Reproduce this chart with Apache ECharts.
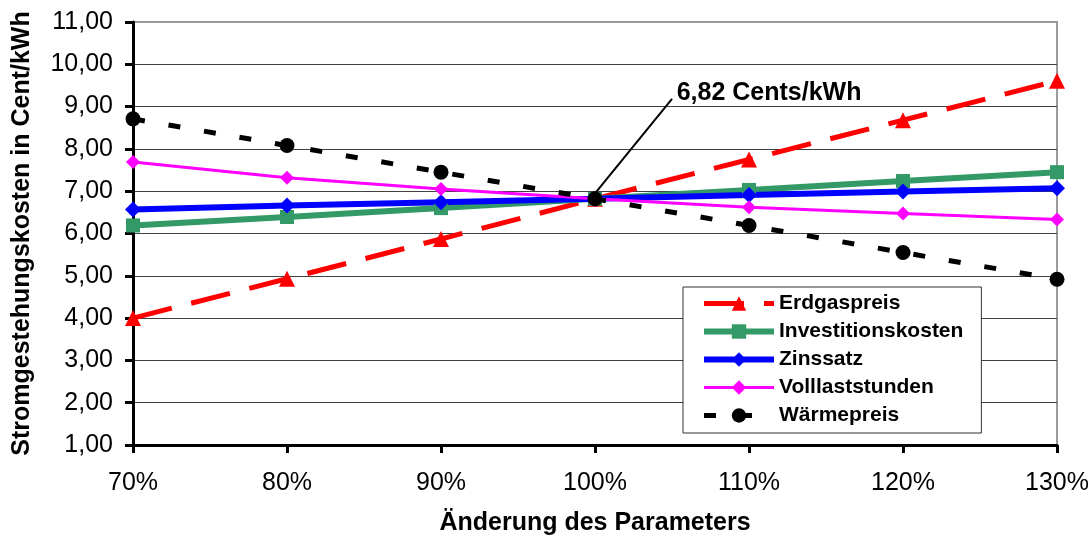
<!DOCTYPE html>
<html>
<head>
<meta charset="utf-8">
<script src="https://cdn.jsdelivr.net/npm/echarts@6/dist/echarts.min.js"></script>
<style>
html,body{margin:0;padding:0;background:#fff;}
#chart{width:1092px;height:541px;}
</style>
</head>
<body>
<div id="chart"></div>
<script>
// Parameter change (%)
const categories = [70, 80, 90, 100, 110, 120, 130];
// Stromgestehungskosten (Cent/kWh)
const erdgaspreis = [4.00, 4.93, 5.87, 6.82, 7.75, 8.68, 9.61];
const investitionskosten = [6.19, 6.39, 6.60, 6.82, 7.03, 7.24, 7.45];
const zinssatz = [6.57, 6.66, 6.74, 6.82, 6.91, 6.99, 7.07];
const volllaststunden = [7.69, 7.32, 7.05, 6.82, 6.62, 6.47, 6.33];
const waermepreis = [8.71, 8.08, 7.45, 6.82, 6.19, 5.55, 4.92];
const seriesNames = ['Erdgaspreis', 'Investitionskosten', 'Zinssatz', 'Volllaststunden', 'Wärmepreis'];
const yTicks = [1, 11, 1]; // min, max, interval
// annotation (data coordinates)
const annotationText = '6,82 Cents/kWh';
const arrowFrom = [105, 9.18];
const arrowTo = [100, 6.95];
const labelAt = [105.3, 9.33];

const FONT = 'Liberation Sans, Arial, sans-serif';
const pair = arr => arr.map((v, i) => [categories[i], v]);

const chart = echarts.init(document.getElementById('chart'), null, {renderer: 'canvas'});
chart.setOption({
  animation: false,
  backgroundColor: '#ffffff',
  grid: {left: 133, right: 34, top: 22, bottom: 95, show: true, borderColor: '#9a9a9a', borderWidth: 2, backgroundColor: '#fff'},
  xAxis: {
    type: 'value', min: categories[0], max: categories[categories.length - 1], interval: 10,
    name: 'Änderung des Parameters', nameLocation: 'middle', nameGap: 66,
    nameTextStyle: {fontFamily: FONT, fontSize: 25, fontWeight: 'bold', color: '#000'},
    axisLine: {onZero: false, lineStyle: {color: '#000', width: 3}},
    axisTick: {show: true, inside: false, length: 8, lineStyle: {color: '#000', width: 3}},
    axisLabel: {fontFamily: FONT, fontSize: 25, color: '#000', margin: 26, formatter: v => v + '%'},
    splitLine: {show: false}
  },
  yAxis: {
    type: 'value', min: yTicks[0], max: yTicks[1], interval: yTicks[2],
    name: 'Stromgestehungskosten in Cent/kWh', nameLocation: 'middle', nameGap: 98,
    nameTextStyle: {fontFamily: FONT, fontSize: 25, fontWeight: 'bold', color: '#000'},
    axisLine: {show: true, lineStyle: {color: '#000', width: 3}},
    axisTick: {show: true, inside: false, length: 8, lineStyle: {color: '#000', width: 3}},
    axisLabel: {fontFamily: FONT, fontSize: 25, color: '#000', margin: 20, formatter: v => v.toFixed(2).replace('.', ',')},
    splitLine: {show: true, showMaxLine: false, showMinLine: false, lineStyle: {color: '#404040', width: 1}}
  },
  legend: {
    orient: 'vertical', left: 683, top: 287,
    data: seriesNames,
    itemWidth: 70, itemHeight: 18, itemGap: 7,
    padding: [6, 18, 7, 18],
    backgroundColor: '#fff', borderColor: '#333', borderWidth: 1,
    lineStyle: {width: 'inherit', type: 'inherit'},
    textStyle: {fontFamily: FONT, fontSize: 21, fontWeight: 'bold', color: '#000', lineHeight: 21}
  },
  series: [
    {
      name: seriesNames[0], type: 'line', data: pair(erdgaspreis),
      symbol: 'triangle', symbolSize: 16,
      lineStyle: {color: '#ff0000', width: 5, type: [40, 20]},
      itemStyle: {color: '#ff0000'}
    },
    {
      name: seriesNames[1], type: 'line', data: pair(investitionskosten),
      symbol: 'rect', symbolSize: 14,
      lineStyle: {color: '#339966', width: 6},
      itemStyle: {color: '#339966'}
    },
    {
      name: seriesNames[2], type: 'line', data: pair(zinssatz),
      symbol: 'diamond', symbolSize: 16,
      lineStyle: {color: '#0000ff', width: 6},
      itemStyle: {color: '#0000ff'}
    },
    {
      name: seriesNames[3], type: 'line', data: pair(volllaststunden),
      symbol: 'diamond', symbolSize: 14,
      lineStyle: {color: '#ff00ff', width: 3},
      itemStyle: {color: '#ff00ff'}
    },
    {
      name: seriesNames[4], type: 'line', data: pair(waermepreis),
      symbol: 'circle', symbolSize: 15,
      lineStyle: {color: '#000', width: 5, type: [12, 24]},
      itemStyle: {color: '#000'},
      markLine: {
        silent: true, symbol: ['none', 'arrow'], symbolSize: [0, 14],
        lineStyle: {color: '#000', width: 2, type: 'solid'},
        label: {show: false},
        data: [[{coord: arrowFrom}, {coord: arrowTo}]]
      },
      markPoint: {
        silent: true, symbol: 'circle', symbolSize: 0,
        label: {show: true, position: 'right', distance: 0, formatter: annotationText,
          fontFamily: FONT, fontSize: 25, fontWeight: 'bold', color: '#000'},
        data: [{coord: labelAt}]
      }
    }
  ]
});
</script>
</body>
</html>
